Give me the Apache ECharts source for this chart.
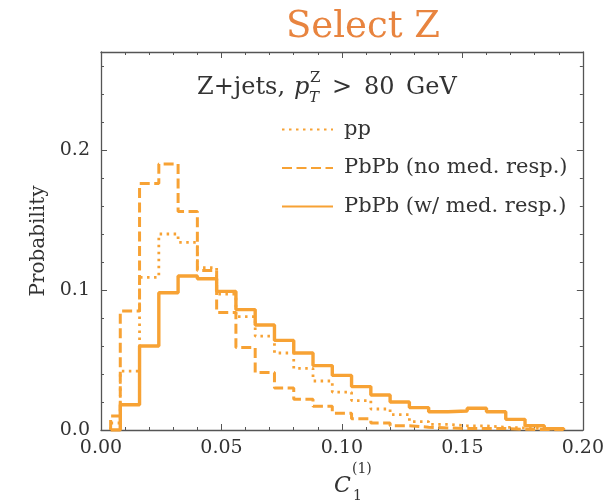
<!DOCTYPE html>
<html>
<head>
<meta charset="utf-8">
<script src="https://cdn.jsdelivr.net/npm/echarts@6/dist/echarts.min.js"></script>
<style>html,body{margin:0;padding:0;background:#fff;}#c{width:607px;height:503px;}</style>
</head>
<body>
<div id="c"></div>
<script>
// Bin edges of the histogram (C_1^(1))
const binEdges = [0.004, 0.008, 0.016, 0.024, 0.032, 0.040, 0.048, 0.056, 0.064, 0.072, 0.080,
  0.088, 0.096, 0.104, 0.112, 0.120, 0.128, 0.136, 0.144, 0.152, 0.160, 0.168, 0.176, 0.184, 0.192];
// Probabilities per bin
const ppVals = [0.005, 0.042, 0.109, 0.140, 0.134, 0.116, 0.097, 0.081, 0.067, 0.055, 0.044,
  0.035, 0.027, 0.021, 0.015, 0.011, 0.006, 0.004, 0.003, 0.003, 0.002, 0.0015, 0.001, 0.0005];
const noMedVals = [0.010, 0.085, 0.176, 0.190, 0.156, 0.114, 0.084, 0.059, 0.041, 0.030, 0.022,
  0.017, 0.012, 0.008, 0.005, 0.003, 0.002, 0.0015, 0.001, 0.001, 0.001, 0.0005, 0.0003, 0.0002];
const wMedVals = [0.0, 0.018, 0.060, 0.098, 0.110, 0.108, 0.099, 0.086, 0.075, 0.064, 0.055,
  0.046, 0.039, 0.031, 0.025, 0.020, 0.016, 0.013, 0.0136, 0.0155, 0.013, 0.0076, 0.003, 0.001];
const seriesNames = ['pp', 'PbPb (no med. resp.)', 'PbPb (w/ med. resp.)'];
const xTicks = [0, 0.05, 0.10, 0.15, 0.20];
const yTicks = [0.0, 0.1, 0.2];

function stepData(vals) {
  const n = vals.length;
  const d = [[binEdges[0], 0]];
  for (let i = 0; i < n; i++) d.push([binEdges[i], vals[i]]);
  d.push([binEdges[n], vals[n - 1]]);
  d.push([binEdges[n], 0]);
  return d;
}

const FONT = 'DejaVu Serif';
const AX = '#555';
const ORANGE = '#F7A234';
const TXT = '#333';

const chart = echarts.init(document.getElementById('c'), null, {renderer: 'canvas'});

function near(v, list) { return list.some(t => Math.abs(t - v) < 1e-6); }

const grid = {left: 101, right: 22, top: 52, bottom: 73, containLabel: false};

const xBase = {
  type: 'value', min: 0, max: 0.2, interval: 0.05,
  axisLine: {show: true, onZero: false, lineStyle: {color: AX, width: 1.3}},
  axisTick: {show: true, inside: true, length: 6, lineStyle: {color: AX, width: 1}},
  minorTick: {show: true, splitNumber: 5, length: 3, lineStyle: {color: AX, width: 1}},
  splitLine: {show: false}, minorSplitLine: {show: false}
};
const yMajor = {
  type: 'value', min: 0, max: 0.27, interval: 0.1,
  axisLine: {show: true, onZero: false, lineStyle: {color: AX, width: 1.3}},
  axisTick: {show: true, inside: true, length: 6, lineStyle: {color: AX, width: 1}},
  splitLine: {show: false}
};
const yMinor = {
  type: 'value', min: 0, max: 0.27, interval: 0.02,
  axisLine: {show: false, onZero: false},
  axisTick: {show: true, inside: true, length: 3, lineStyle: {color: AX, width: 1}},
  axisLabel: {show: false}, splitLine: {show: false}
};

const option = {
  backgroundColor: '#fff',
  animation: false,
  title: {
    text: 'Select Z', left: 281, top: 4,
    textStyle: {fontFamily: FONT, fontSize: 37, fontWeight: 'normal', color: '#E8843F'}
  },
  grid: grid,
  legend: {
    orient: 'vertical', left: 276, top: 114,
    itemWidth: 51, itemHeight: 20, itemGap: 17.5,
    itemStyle: {opacity: 0},
    textStyle: {fontFamily: FONT, fontSize: 21, color: TXT, padding: [0, 0, 0, 6]},
    data: seriesNames
  },
  xAxis: [
    Object.assign({}, xBase, {
      position: 'bottom',
      axisLabel: {show: true, margin: 9, fontFamily: FONT, fontSize: 19, color: TXT,
        formatter: v => near(v, xTicks) ? v.toFixed(2) : ''}
    }),
    Object.assign({}, xBase, {position: 'top', axisLabel: {show: false}})
  ],
  yAxis: [
    Object.assign({}, yMajor, {
      position: 'left',
      name: 'Probability', nameLocation: 'middle', nameRotate: 90, nameGap: 52,
      nameTextStyle: {fontFamily: FONT, fontSize: 20, color: TXT},
      axisLabel: {show: true, margin: 11, fontFamily: FONT, fontSize: 19, color: TXT,
        showMaxLabel: false,
        formatter: v => near(v, yTicks) ? v.toFixed(1) : ''}
    }),
    Object.assign({}, yMinor, {position: 'left'}),
    Object.assign({}, yMajor, {position: 'right', axisLabel: {show: false}}),
    Object.assign({}, yMinor, {position: 'right'})
  ],
  series: [
    {name: seriesNames[0], type: 'line', step: 'end', symbol: 'none', data: stepData(ppVals),
      lineStyle: {color: ORANGE, width: 2.8, type: [2.5, 4.5], cap: 'butt'}, itemStyle: {color: ORANGE}},
    {name: seriesNames[1], type: 'line', step: 'end', symbol: 'none', data: stepData(noMedVals),
      lineStyle: {color: ORANGE, width: 3, type: [10, 4.5], cap: 'butt'}, itemStyle: {color: ORANGE}},
    {name: seriesNames[2], type: 'line', step: 'end', symbol: 'none', data: stepData(wMedVals),
      lineStyle: {color: ORANGE, width: 3.4, type: 'solid'}, itemStyle: {color: ORANGE}}
  ],
  graphic: [
    {type: 'text', left: 197, top: 76, style: {text: 'Z+jets,', font: '24px "' + FONT + '"', fill: TXT}},
    {type: 'text', left: 294, top: 76, style: {text: 'p', font: 'italic 24px "' + FONT + '"', fill: TXT}},
    {type: 'text', left: 310, top: 71, style: {text: 'Z', font: '15px "' + FONT + '"', fill: TXT}},
    {type: 'text', left: 309, top: 91, style: {text: 'T', font: 'italic 15px "' + FONT + '"', fill: TXT}},
    {type: 'text', left: 332, top: 76, style: {text: '>', font: '24px "' + FONT + '"', fill: TXT}},
    {type: 'text', left: 364, top: 76, style: {text: '80', font: '24px "' + FONT + '"', fill: TXT}},
    {type: 'text', left: 406, top: 76, style: {text: 'GeV', font: '24px "' + FONT + '"', fill: TXT}},
    {type: 'text', left: 334, top: 475, style: {text: 'C', font: 'italic 22px "' + FONT + '"', fill: TXT}},
    {type: 'text', left: 352, top: 462, style: {text: '(1)', font: '14px "' + FONT + '"', fill: TXT}},
    {type: 'text', left: 353, top: 489, style: {text: '1', font: '14px "' + FONT + '"', fill: TXT}}
  ]
};
chart.setOption(option);
</script>
</body>
</html>
